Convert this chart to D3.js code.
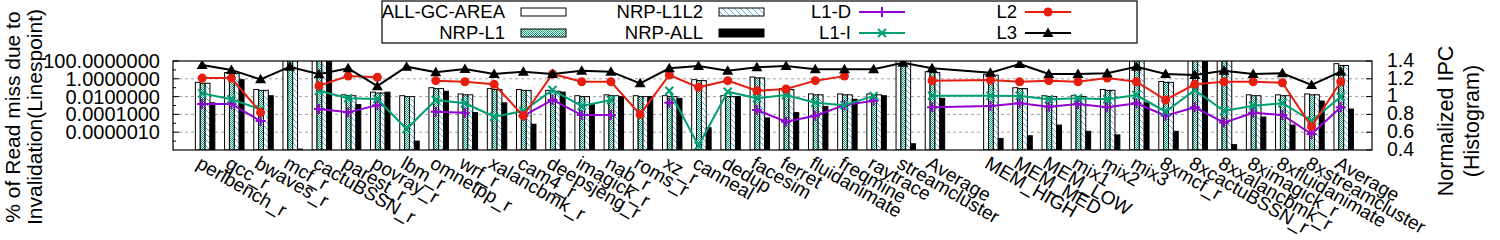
<!DOCTYPE html>
<html>
<head>
<meta charset="utf-8">
<script src="https://d3js.org/d3.v7.min.js"></script>
<style>
  body { margin: 0; background: #fff; }
  text { font-family: "Liberation Sans", Arial, sans-serif; fill: #000; }
</style>
</head>
<body>
<svg id="chart" width="1500" height="240"></svg>
<script>
// benchmark names, "" marks the empty slot between the two groups
const categories = ["perlbench_r","gcc_r","bwaves_r","mcf_r","cactuBSSN_r","parest_r","povray_r","lbm_r","omnetpp_r","wrf_r",
  "xalancbmk_r","cam4_r","deepsjeng_r","imagick_r","nab_r","roms_r","xz_r","canneal","dedup","facesim",
  "ferret","fluidanimate","freqmine","raytrace","streamcluster","Average","",
  "MEM_HIGH","MEM_MED","MEM_LOW","mix1","mix2","mix3","8xmcf_r","8xcactuBSSN_r","8xxalancbmk_r",
  "8ximagick_r","8xfluidanimate","8xstreamcluster","Average"];

// normalized IPC (histogram, right axis)
const allGcArea = [1.16,1.27,1.08,1.5,1.5,1.02,1.05,1.01,1.10,1.03,1.09,1.08,1.07,1.01,1.02,1.01,1.01,1.19,1.01,1.22,
  1.09,1.03,1.03,1.03,1.42,1.28,null,1.25,1.10,1.01,1.01,1.08,1.42,1.17,1.5,1.42,1.02,1.02,1.03,1.37];
const nrpL1 = [1.15,1.26,1.07,1.5,1.5,1.01,1.04,1.00,1.09,1.02,1.08,1.07,1.06,1.00,1.01,1.00,1.00,1.18,1.00,1.21,
  1.08,1.02,1.02,1.02,1.42,1.27,null,1.24,1.09,1.00,1.00,1.07,1.42,1.16,1.5,1.42,1.01,1.01,1.02,1.35];
const nrpL1L2 = [1.15,1.26,1.07,1.5,1.5,1.01,1.04,1.00,1.09,1.02,1.08,1.07,1.06,1.00,1.01,1.00,1.00,1.18,1.00,1.21,
  1.08,1.02,1.02,1.02,1.42,1.27,null,1.24,1.09,1.00,1.00,1.07,1.42,1.16,1.5,1.42,1.01,1.01,1.02,1.35];
const nrpAll = [0.93,1.19,1.01,0.41,1.5,0.91,1.05,0.50,1.06,0.82,0.93,0.69,1.05,0.91,1.00,1.00,0.98,0.65,1.00,0.76,
  0.82,0.89,0.97,1.01,0.47,0.98,null,0.53,0.56,0.68,0.61,0.57,0.93,0.61,1.5,0.46,0.77,0.68,0.95,0.86];

// % of read miss due to invalidation (linespoints, left log axis)
const l1d = [0.0015,0.0015,1.8e-5,null,4e-4,1.7e-4,0.0011,null,2e-4,1.5e-4,null,7e-5,0.0042,8.5e-5,8.5e-5,null,0.002,null,null,3.1e-4,
  1.5e-5,7e-5,0.0011,0.0035,null,6.3e-4,null,8.7e-4,0.0018,7.4e-4,0.0015,6.3e-4,0.0018,7e-5,6.3e-4,1.2e-5,1.5e-4,8.5e-5,6.3e-7,6.3e-4];
const l1i = [0.023,0.005,3.7e-4,null,0.046,0.0065,0.0054,2.3e-6,0.0042,0.0018,5.5e-5,2.4e-4,0.055,8.7e-4,0.0042,null,0.046,3e-8,0.035,0.0065,
  0.015,0.002,0.0011,0.012,null,0.0126,null,0.0126,0.012,0.005,0.0065,0.005,0.015,2e-4,0.055,2.4e-4,9.5e-4,0.0018,1.9e-5,0.0098];
const l2 = [1.2,1.2,1.7e-4,null,0.17,2.0,1.5,null,0.62,0.47,0.24,7e-5,3.5,0.47,0.47,1.0e-4,2.7,0.11,0.62,0.046,
  0.071,0.62,2.0,null,null,0.62,null,0.74,0.47,0.62,0.47,1.2,0.47,4.2e-3,0.24,0.47,0.47,0.36,4.2e-6,0.47];
const l3 = [35,10,0.87,23,3.2,15,0.15,23,5.4,12.6,3.5,6.3,3.5,8.1,6.3,0.31,15,28,8.1,19.5,
  28,11.7,11.7,11.7,65,15,null,4.9,46,3.5,3.5,4.2,23,3.5,2.7,8.1,3.5,4.2,0.2,6.3];

const leftTicks = [100, 1, 0.01, 0.0001, 0.000001];
const leftTickLabels = ["100.0000000", "1.0000000", "0.0100000", "0.0001000", "0.0000010"];
const leftMinorTicks = [10, 0.1, 0.001, 0.00001, 0.0000001];
const rightTicks = [0.4, 0.6, 0.8, 1, 1.2, 1.4];
const rightTickLabels = ["0.4", "0.6", "0.8", "1", "1.2", "1.4"];
const gapIndex = 26;

const barSeries = [
  { name: "ALL-GC-AREA", values: allGcArea, fill: "#fff" },
  { name: "NRP-L1", values: nrpL1, fill: "url(#checker)" },
  { name: "NRP-L1L2", values: nrpL1L2, fill: "url(#hatch)" },
  { name: "NRP-ALL", values: nrpAll, fill: "#000" }
];
const lineSeries = [
  { name: "L1-D", values: l1d, color: "#9400d3", symbol: "plus" },
  { name: "L1-I", values: l1i, color: "#009e73", symbol: "cross" },
  { name: "L2", values: l2, color: "#e51e10", symbol: "circle" },
  { name: "L3", values: l3, color: "#000", symbol: "triangle" }
];

const plot = { left: 173, right: 1372, top: 61, bottom: 150 };
const svg = d3.select("#chart");

const x = d3.scaleLinear().domain([-1, 40.07]).range([plot.left, plot.right]);
const yL = d3.scaleLog().domain([1e-8, 100]).range([plot.bottom, plot.top]);
const yR = d3.scaleLinear().domain([0.4, 1.4]).range([plot.bottom, plot.top]);

// patterns
const defs = svg.append("defs");
const checker = defs.append("pattern").attr("id", "checker")
  .attr("patternUnits", "userSpaceOnUse").attr("width", 2).attr("height", 2);
checker.append("rect").attr("width", 2).attr("height", 2).attr("fill", "#fff");
checker.append("rect").attr("width", 1).attr("height", 1).attr("fill", "#009e73");
checker.append("rect").attr("x", 1).attr("y", 1).attr("width", 1).attr("height", 1).attr("fill", "#009e73");

const hatch = defs.append("pattern").attr("id", "hatch")
  .attr("patternUnits", "userSpaceOnUse").attr("width", 6).attr("height", 6);
hatch.append("rect").attr("width", 6).attr("height", 6).attr("fill", "#fff");
hatch.append("path").attr("d", "M-1,-1 L7,7 M-1,5 L1,7 M5,-1 L7,1")
  .attr("stroke", "#56b4e9").attr("stroke-width", 1);

defs.append("clipPath").attr("id", "plotClip")
  .append("rect")
  .attr("x", plot.left).attr("y", plot.top)
  .attr("width", plot.right - plot.left).attr("height", plot.bottom - plot.top);

// grid lines
svg.append("g").selectAll("line")
  .data(rightTicks.filter(t => t > 0.4 && t < 1.4))
  .join("line")
  .attr("x1", plot.left).attr("x2", plot.right)
  .attr("y1", d => yR(d)).attr("y2", d => yR(d))
  .attr("stroke", "#a0a0a0").attr("stroke-width", 1).attr("stroke-dasharray", "3,3");

// bars
const bw = (x(1) - x(0)) / 6;
const barsG = svg.append("g").attr("clip-path", "url(#plotClip)");
barSeries.forEach((s, j) => {
  barsG.append("g").selectAll("rect")
    .data(s.values.map((v, i) => ({ i, v })).filter(d => d.v != null))
    .join("rect")
    .attr("x", d => x(d.i + 0.1) + (j - 2) * bw)
    .attr("width", bw)
    .attr("y", d => yR(Math.min(d.v, 1.45)))
    .attr("height", d => yR(0.4) - yR(Math.min(d.v, 1.45)))
    .attr("fill", s.fill)
    .attr("stroke", "#000").attr("stroke-width", 1);
});

// symbols
function drawSymbol(g, type, cx, cy, color) {
  if (type === "plus") {
    g.append("path").attr("d", `M${cx - 5},${cy} H${cx + 5} M${cx},${cy - 5} V${cy + 5}`)
      .attr("stroke", color).attr("stroke-width", 2).attr("fill", "none");
  } else if (type === "cross") {
    g.append("path").attr("d", `M${cx - 4},${cy - 4} L${cx + 4},${cy + 4} M${cx - 4},${cy + 4} L${cx + 4},${cy - 4}`)
      .attr("stroke", color).attr("stroke-width", 2).attr("fill", "none");
  } else if (type === "circle") {
    g.append("circle").attr("cx", cx).attr("cy", cy).attr("r", 4.5).attr("fill", color);
  } else {
    g.append("path").attr("d", `M${cx},${cy - 5.5} L${cx + 5.5},${cy + 4} L${cx - 5.5},${cy + 4} Z`)
      .attr("fill", color);
  }
}

// lines
const linesG = svg.append("g").attr("clip-path", "url(#plotClip)");
lineSeries.forEach(s => {
  const pts = s.values.map((v, i) => ({ i, v })).filter(d => d.i !== gapIndex);
  const line = d3.line().defined(d => d.v != null).x(d => x(d.i)).y(d => yL(d.v));
  linesG.append("path").attr("d", line(pts))
    .attr("fill", "none").attr("stroke", s.color).attr("stroke-width", 2);
  const mg = linesG.append("g");
  pts.filter(d => d.v != null).forEach(d => drawSymbol(mg, s.symbol, x(d.i), yL(d.v), s.color));
});

// frame
svg.append("rect")
  .attr("x", plot.left).attr("y", plot.top)
  .attr("width", plot.right - plot.left).attr("height", plot.bottom - plot.top)
  .attr("fill", "none").attr("stroke", "#000").attr("stroke-width", 1.2);

// left axis
const axisL = svg.append("g");
leftTicks.forEach((t, k) => {
  axisL.append("line").attr("x1", plot.left).attr("x2", plot.left + 6)
    .attr("y1", yL(t)).attr("y2", yL(t)).attr("stroke", "#000");
  axisL.append("text").attr("x", plot.left - 13).attr("y", yL(t)).attr("dy", "0.35em")
    .attr("text-anchor", "end").attr("font-size", 20).text(leftTickLabels[k]);
});
leftMinorTicks.forEach(t => {
  axisL.append("line").attr("x1", plot.left).attr("x2", plot.left + 3)
    .attr("y1", yL(t)).attr("y2", yL(t)).attr("stroke", "#000");
});

// right axis
const axisR = svg.append("g");
rightTicks.forEach((t, k) => {
  axisR.append("line").attr("x1", plot.right - 6).attr("x2", plot.right)
    .attr("y1", yR(t)).attr("y2", yR(t)).attr("stroke", "#000");
  axisR.append("text").attr("x", plot.right + 15).attr("y", yR(t)).attr("dy", "0.3em")
    .attr("font-size", 19.5).text(rightTickLabels[k]);
});

// x labels
svg.append("g").selectAll("text")
  .data(categories.map((c, i) => ({ c, i })).filter(d => d.c !== ""))
  .join("text")
  .attr("transform", d => `translate(${x(d.i) - 7},167) rotate(30)`)
  .attr("font-size", 19)
  .text(d => d.c);

// axis titles (two lines each, rotated)
const titleL = svg.append("text").attr("transform", "translate(20,117) rotate(-90)")
  .attr("text-anchor", "middle").attr("font-size", 21);
titleL.append("tspan").attr("x", 0).attr("dy", 0).text("% of Read miss due to");
titleL.append("tspan").attr("x", 0).attr("dy", 21.5).text("Invalidation(Linespoint)");

const titleR = svg.append("text").attr("transform", "translate(1453,121) rotate(-90)")
  .attr("text-anchor", "middle").attr("font-size", 21.5);
titleR.append("tspan").attr("x", 0).attr("dy", 0).text("Normalized IPC");
titleR.append("tspan").attr("x", 0).attr("dy", 26).text("(Histogram)");

// legend
const legend = svg.append("g");
legend.append("rect").attr("x", 382).attr("y", 1).attr("width", 755).attr("height", 42)
  .attr("fill", "#fff").attr("stroke", "#000").attr("stroke-width", 1.2);
const colText = [505, 703, 851, 1017];
const rowY = [12, 33];
barSeries.forEach((s, k) => {
  const c = Math.floor(k / 2), r = k % 2;
  legend.append("text").attr("x", colText[c]).attr("y", rowY[r]).attr("dy", "0.35em")
    .attr("text-anchor", "end").attr("font-size", 18.5).text(s.name);
  legend.append("rect").attr("x", colText[c] + 16).attr("y", rowY[r] - 4)
    .attr("width", 45).attr("height", 8)
    .attr("fill", s.fill).attr("stroke", "#000").attr("stroke-width", 1);
});
lineSeries.forEach((s, k) => {
  const c = 2 + Math.floor(k / 2), r = k % 2;
  legend.append("text").attr("x", colText[c]).attr("y", rowY[r]).attr("dy", "0.35em")
    .attr("text-anchor", "end").attr("font-size", 18.5).text(s.name);
  legend.append("line").attr("x1", colText[c] + 8).attr("x2", colText[c] + 54)
    .attr("y1", rowY[r]).attr("y2", rowY[r]).attr("stroke", s.color).attr("stroke-width", 2);
  drawSymbol(legend, s.symbol, colText[c] + 31, rowY[r], s.color);
});
</script>
</body>
</html>
